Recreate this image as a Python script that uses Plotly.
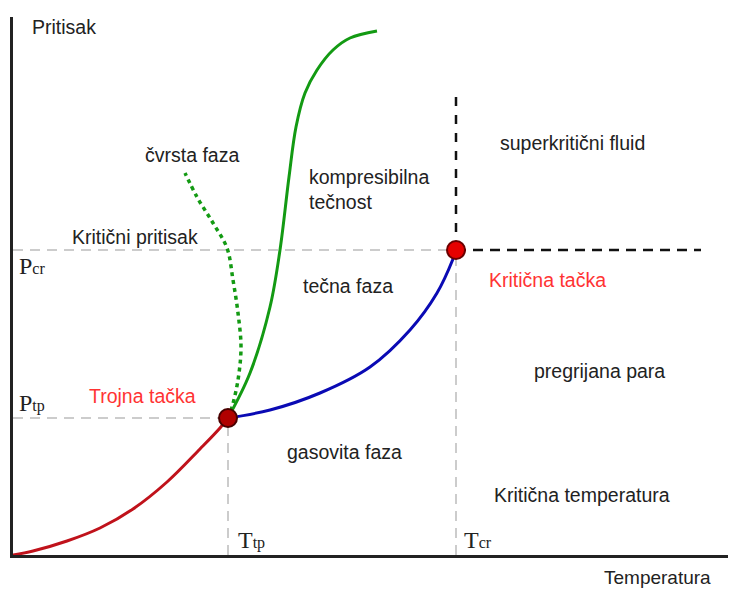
import plotly.graph_objects as go

# Coordinates: T (temperature units), P (pressure units), schematic diagram
T_tp, P_tp = 215, 137      # triple point
T_cr, P_cr = 443, 305      # critical point
T_max, P_max = 723, 538
P_top_dash = 462           # top of black dashed vertical
T_right_dash = 688         # end of black dashed horizontal

# sublimation curve (red)
subl_T = [0, 20, 54, 87, 120, 154, 187, 207, T_tp]
subl_P = [0, 4, 14, 27, 46, 73, 106, 127, P_tp]

# vaporization curve (blue)
vap_T = [T_tp, 257, 307, 357, 397, 424, 440, T_cr]
vap_P = [P_tp, 145, 162, 188, 225, 262, 296, P_cr]

# melting curve (green solid)
melt_T = [T_tp, 237, 257, 267, 276, 283, 292, 304, 320, 337, 364]
melt_P = [P_tp, 182, 248, 305, 378, 428, 462, 485, 505, 517, 524]

# anomalous melting curve (green dotted)
melt2_T = [T_tp, 219, 225, 228, 225, 220, 214, 200, 184, 172]
melt2_P = [P_tp, 148, 175, 208, 242, 275, 307, 332, 358, 382]

TEXT = "#222222"
RED_TXT = "#ff3333"
GREY = "#cccccc"
FONT = "Liberation Sans, Arial, sans-serif"
SERIF = "Liberation Serif, Times New Roman, serif"

fig = go.Figure()

# grey dashed guides
fig.add_trace(go.Scatter(x=[0, T_cr], y=[P_cr, P_cr], mode="lines",
                         line=dict(color=GREY, width=2, dash="10px,7px"), hoverinfo="skip"))
fig.add_trace(go.Scatter(x=[0, T_tp], y=[P_tp, P_tp], mode="lines",
                         line=dict(color=GREY, width=2, dash="10px,7px"), hoverinfo="skip"))
fig.add_trace(go.Scatter(x=[T_tp, T_tp], y=[0, P_tp], mode="lines",
                         line=dict(color=GREY, width=2, dash="10px,7px"), hoverinfo="skip"))
fig.add_trace(go.Scatter(x=[T_cr, T_cr], y=[0, P_cr], mode="lines",
                         line=dict(color=GREY, width=2, dash="10px,7px"), hoverinfo="skip"))

# black dashed supercritical boundaries
fig.add_trace(go.Scatter(x=[T_cr, T_cr], y=[P_cr, P_top_dash], mode="lines",
                         line=dict(color="#111111", width=2.5, dash="9px,9px"), hoverinfo="skip"))
fig.add_trace(go.Scatter(x=[T_cr, T_right_dash], y=[P_cr, P_cr], mode="lines",
                         line=dict(color="#111111", width=2.5, dash="10px,7px"), hoverinfo="skip"))

# curves
fig.add_trace(go.Scatter(x=subl_T, y=subl_P, mode="lines", line=dict(color="#c0121b", width=3, shape="spline", smoothing=1.0), hoverinfo="skip"))
fig.add_trace(go.Scatter(x=vap_T, y=vap_P, mode="lines", line=dict(color="#0a0ab4", width=3, shape="spline", smoothing=1.0), hoverinfo="skip"))
fig.add_trace(go.Scatter(x=melt_T, y=melt_P, mode="lines", line=dict(color="#139a13", width=3, shape="spline", smoothing=1.0), hoverinfo="skip"))
fig.add_trace(go.Scatter(x=melt2_T, y=melt2_P, mode="lines", line=dict(color="#139a13", width=3.5, dash="4px,4px", shape="spline", smoothing=1.0), hoverinfo="skip"))

# points
fig.add_trace(go.Scatter(x=[T_tp], y=[P_tp], mode="markers",
                         marker=dict(size=18, color="#b00000", line=dict(color="#4a0000", width=2)), hoverinfo="skip"))
fig.add_trace(go.Scatter(x=[T_cr], y=[P_cr], mode="markers",
                         marker=dict(size=18, color="#e60000", line=dict(color="#6a0000", width=2)), hoverinfo="skip"))

labels = [
    ("Pritisak", 17, 528, TEXT),
    ("čvrsta faza", 130, 400, TEXT),
    ("kompresibilna<br>tečnost", 294, 366, TEXT),
    ("Kritični pritisak", 57, 318, TEXT),
    ("tečna faza", 288, 269, TEXT),
    ("Kritična tačka", 474, 275, RED_TXT),
    ("superkritični fluid", 485, 412, TEXT),
    ("pregrijana para", 519, 184, TEXT),
    ("Trojna tačka", 74, 159, RED_TXT),
    ("gasovita faza", 272, 103, TEXT),
    ("Kritična temperatura", 479, 60, TEXT),
]
annotations = []
for txt, x, y, c in labels:
    annotations.append(dict(text=txt, x=x, y=y, xref="x", yref="y", xanchor="left", yanchor="middle",
                            showarrow=False, align="left",
                            font=dict(family=FONT, size=19.5, color=c)))

# x-axis title sits below the plot area
annotations.append(dict(text="Temperatura", x=589, y=-35 / P_max, xref="x", yref="paper",
                        xanchor="left", yanchor="bottom", showarrow=False,
                        font=dict(family=FONT, size=19, color=TEXT)))

serif_labels = [
    ("P", "cr", 4, 289),
    ("P", "tp", 4, 152),
    ("T", "tp", 223, 15),
    ("T", "cr", 449, 15),
]
for big, small, x, y in serif_labels:
    annotations.append(dict(text=f"{big}<span style='font-size:16px'>{small}</span>", x=x, y=y,
                            xref="x", yref="y", xanchor="left", yanchor="middle", showarrow=False,
                            font=dict(family=SERIF, size=24, color=TEXT)))

# page body has an 8px default margin, so the figure is sized to fit the window
fig.update_layout(
    width=728, height=582,
    margin=dict(l=5, r=0, t=9, b=35),
    plot_bgcolor="white", paper_bgcolor="white",
    showlegend=False,
    annotations=annotations,
    xaxis=dict(range=[0, T_max], showgrid=False, zeroline=False, showticklabels=False, ticks="",
               showline=True, linecolor="#222222", linewidth=2.5),
    yaxis=dict(range=[0, P_max], showgrid=False, zeroline=False, showticklabels=False, ticks="",
               showline=True, linecolor="#222222", linewidth=2.5),
)

fig.write_html("out.html")
